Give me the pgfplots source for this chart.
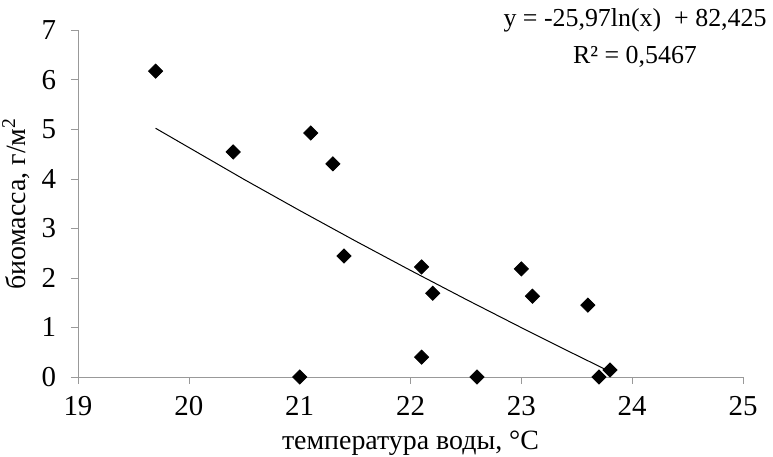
\documentclass[border=0pt]{standalone}
\usepackage{fontspec}
\setmainfont{Liberation Serif}
\usepackage{pgfplots}
\pgfplotsset{compat=1.18}

\begin{document}
\begin{tikzpicture}
  \begin{axis}[
      name=ax,
      scale only axis,
      width=332.5bp, height=173.5bp,
      xmin=19, xmax=25,
      ymin=0, ymax=7,
      xtick={19,20,...,25},
      ytick={0,1,...,7},
      axis lines=left,
      axis line style={-, draw=gray!80},
      tick style={draw=gray!80},
      tick align=outside,
      major tick length=3.5bp,
      /pgf/number format/assume math mode=true,
      ticklabel style={font=\fontsize{14.5}{16}\selectfont},
      xticklabel style={yshift=-2.5bp},
      yticklabel style={xshift=-4bp},
      xlabel={температура воды, °C},
      ylabel={биомасса, г/м\textsuperscript{2}},
      label style={font=\fontsize{14}{16}\selectfont},
      xlabel style={yshift=-1bp},
      ylabel style={yshift=-1bp},
      clip=false,
    ]

    % observations
    \addplot[only marks, mark=square*, mark size=2.5bp,
             mark options={rotate=45, fill=black, draw=black}]
      coordinates {
      (19.7,6.17)(20.4,4.54)(21.1,4.92)(21.3,4.30)(21.4,2.44)
      (22.1,2.22)(22.2,1.69)(22.1,0.40)(21.0,0.0)(22.6,0.0)
      (23.0,2.18)(23.1,1.63)(23.6,1.45)(23.7,0.0)(23.8,0.14)
      };

    % logarithmic trend line, values read off the fit
    \addplot[black, line width=0.5pt, mark=none]
      coordinates {
      (19.7,5.018)(20.5,3.984)(21.0,3.359)(21.5,2.748)(22.0,2.151)
      (22.5,1.567)(23.0,0.996)(23.4,0.548)(23.8,0.108)
      };

    \node[align=center, anchor=north east, inner sep=0pt,
          font=\fontsize{13}{18.5}\selectfont]
      at (rel axis cs:1.036,1.062)
      {y = -25,97ln(x)~ + 82,425\\R² = 0,5467};
  \end{axis}
  \pgfresetboundingbox
  \path[use as bounding box] (-39bp,-40bp) rectangle (347.5bp,188.5bp);
\end{tikzpicture}
\end{document}
